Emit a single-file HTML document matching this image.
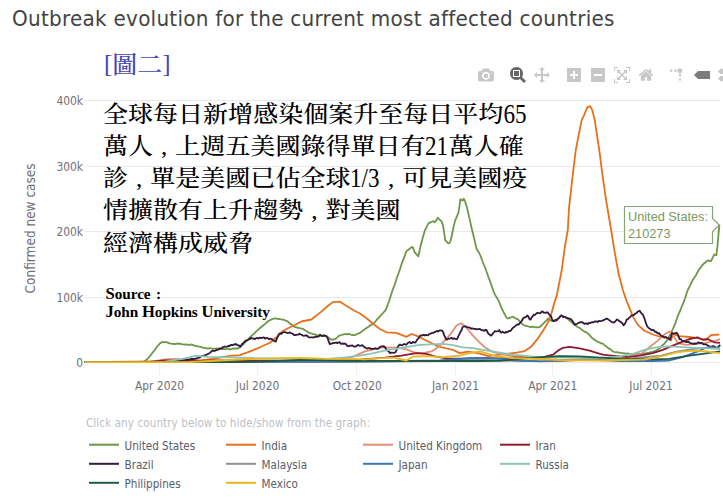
<!DOCTYPE html>
<html><head><meta charset="utf-8">
<style>
html,body{margin:0;padding:0;background:#fff;}
body{width:723px;height:500px;position:relative;overflow:hidden;font-family:"Liberation Sans",sans-serif;}
#title{position:absolute;left:12px;top:5px;transform:scaleY(1.07);transform-origin:0 4.3px;font-family:"DejaVu Sans","Liberation Sans",sans-serif;font-size:20px;line-height:26px;color:#444;white-space:nowrap;letter-spacing:0.25px;}
#fig{position:absolute;left:104px;top:48.7px;font-family:"Liberation Serif","Noto Serif CJK SC",serif;font-weight:500;font-size:25px;line-height:32px;color:#4545b4;white-space:nowrap;}
#cn{position:absolute;left:103px;top:99.2px;word-spacing:1.6px;transform:scaleX(1.088);transform-origin:0 0;font-family:"Liberation Serif","Noto Serif CJK SC",serif;font-weight:500;font-size:23px;line-height:32.1px;color:#000;white-space:nowrap;}
#src{position:absolute;left:105.5px;top:284.5px;letter-spacing:-0.07px;font-family:"Liberation Serif",serif;font-weight:bold;font-size:15.3px;line-height:18.5px;color:#000;white-space:nowrap;}
#src b{font-size:16.6px;line-height:1px;}
#cn .d{position:relative;top:1px;display:inline-block;line-height:1;font-size:26.5px;transform:scaleX(0.8);transform-origin:0 50%;margin-right:-5.3px;}
#cn .e{margin-right:-6.8px;}
#fig .br{position:relative;top:-1px;}
#fig .zh{display:inline-block;transform:scaleY(0.955);transform-origin:0 85%;}
svg.main{position:absolute;left:0;top:0;}
.ax{font-family:"DejaVu Sans Condensed","Liberation Sans",sans-serif;font-size:11.9px;fill:#707078;}
.lg{font-family:"DejaVu Sans Condensed","Liberation Sans",sans-serif;font-size:11.6px;fill:#585d69;}
</style></head><body>
<svg class="main" width="723" height="500" viewBox="0 0 723 500" font-family="Liberation Sans, sans-serif">
<g id="grid" stroke="#e9e9e9" stroke-width="1">
<line x1="84.6" x2="720" y1="100.5" y2="100.5"/>
<line x1="84.6" x2="720" y1="166.5" y2="166.5"/>
<line x1="84.6" x2="720" y1="231.5" y2="231.5"/>
<line x1="84.6" x2="720" y1="297.5" y2="297.5"/>
<line x1="84.6" x2="720" y1="362.5" y2="362.5"/>
<line x1="159.5" x2="159.5" y1="363" y2="375" stroke="#efefef"/>
<line x1="257.5" x2="257.5" y1="363" y2="375" stroke="#efefef"/>
<line x1="356.5" x2="356.5" y1="363" y2="375" stroke="#efefef"/>
<line x1="455.5" x2="455.5" y1="363" y2="375" stroke="#efefef"/>
<line x1="552.5" x2="552.5" y1="363" y2="375" stroke="#efefef"/>
<line x1="651.5" x2="651.5" y1="363" y2="375" stroke="#efefef"/>
</g>
<g class="ax" text-anchor="end">
<text x="83" y="105">400k</text>
<text x="83" y="171">300k</text>
<text x="83" y="236">200k</text>
<text x="83" y="302">100k</text>
<text x="83" y="367">0</text>
</g>
<g class="ax" text-anchor="middle">
<text x="159.5" y="390">Apr 2020</text>
<text x="257.5" y="390">Jul 2020</text>
<text x="357.2" y="390">Oct 2020</text>
<text x="455.5" y="390">Jan 2021</text>
<text x="552.7" y="390">Apr 2021</text>
<text x="651" y="390">Jul 2021</text>
</g>
<text class="ax" style="font-size:13.5px" transform="translate(34.8,228.4) rotate(-90)" text-anchor="middle">Confirmed new cases</text>
<g id="curves" fill="none" stroke-width="1.8" stroke-linejoin="round" stroke-linecap="butt">
<path d="M84.6,362.2 L85.7,362.2 L86.8,362.2 L87.8,362.2 L88.9,362.2 L90.0,362.2 L91.1,362.2 L92.2,362.2 L93.2,362.2 L94.3,362.2 L95.4,362.2 L96.5,362.2 L97.6,362.2 L98.6,362.2 L99.7,362.2 L100.8,362.2 L101.9,362.2 L103.0,362.2 L104.0,362.2 L105.1,362.2 L106.2,362.2 L107.3,362.2 L108.4,362.2 L109.4,362.2 L110.5,362.2 L111.6,362.2 L112.7,362.2 L113.8,362.2 L114.8,362.2 L115.9,362.2 L117.0,362.2 L118.1,362.2 L119.2,362.2 L120.2,362.2 L121.3,362.2 L122.4,362.2 L123.5,362.2 L124.6,362.2 L125.6,362.2 L126.7,362.2 L127.8,362.2 L128.9,362.2 L130.0,362.2 L131.0,362.2 L132.1,362.2 L133.2,362.2 L134.3,362.2 L135.4,362.2 L136.4,362.2 L137.5,362.2 L138.6,362.2 L139.7,362.2 L140.8,362.2 L141.8,362.2 L142.9,362.2 L144.0,361.6 L145.1,360.7 L146.2,359.9 L147.2,359.0 L148.3,358.1 L149.4,356.7 L150.5,355.3 L151.6,354.0 L152.6,352.6 L153.7,351.3 L154.8,350.0 L155.9,348.3 L157.0,346.7 L158.0,345.8 L159.1,344.3 L160.2,343.0 L161.3,342.8 L162.4,341.9 L163.4,342.1 L164.5,342.1 L165.6,342.2 L166.7,342.1 L167.8,342.6 L168.8,343.1 L169.9,343.3 L171.0,343.7 L172.1,343.9 L173.2,343.8 L174.2,344.0 L175.3,344.0 L176.4,343.8 L177.5,343.4 L178.6,343.8 L179.6,343.7 L180.7,343.9 L181.8,344.2 L182.9,344.3 L184.0,344.6 L185.0,344.4 L186.1,344.6 L187.2,344.5 L188.3,344.9 L189.4,345.1 L190.4,344.6 L191.5,344.5 L192.6,344.8 L193.7,345.5 L194.8,345.7 L195.8,346.0 L196.9,346.1 L198.0,346.4 L199.1,346.6 L200.2,346.8 L201.2,347.2 L202.3,347.4 L203.4,347.8 L204.5,347.9 L205.6,348.1 L206.6,348.3 L207.7,348.5 L208.8,348.4 L209.9,348.1 L211.0,348.4 L212.0,348.7 L213.1,348.8 L214.2,348.6 L215.3,348.7 L216.4,348.4 L217.4,348.7 L218.5,348.7 L219.6,348.5 L220.7,348.3 L221.8,348.8 L222.8,349.2 L223.9,348.8 L225.0,349.1 L226.1,349.1 L227.2,348.9 L228.2,348.9 L229.3,349.3 L230.4,349.5 L231.5,348.9 L232.6,348.9 L233.6,348.4 L234.7,348.6 L235.8,348.3 L236.9,348.5 L238.0,348.5 L239.0,347.7 L240.1,347.3 L241.2,346.3 L242.3,345.1 L243.4,344.4 L244.4,343.2 L245.5,342.1 L246.6,341.1 L247.7,340.1 L248.8,338.7 L249.8,337.3 L250.9,336.6 L252.0,335.3 L253.1,334.5 L254.2,333.6 L255.2,332.4 L256.3,331.3 L257.4,330.3 L258.5,329.4 L259.6,328.5 L260.6,327.5 L261.7,326.5 L262.8,325.9 L263.9,324.9 L265.0,323.9 L266.0,323.1 L267.1,322.0 L268.2,321.1 L269.3,320.6 L270.4,319.9 L271.4,319.6 L272.5,318.9 L273.6,318.7 L274.7,318.5 L275.8,318.3 L276.8,318.7 L277.9,319.0 L279.0,318.8 L280.1,319.2 L281.2,319.3 L282.2,319.6 L283.3,319.6 L284.4,320.0 L285.5,320.6 L286.6,320.8 L287.6,321.4 L288.7,322.4 L289.8,323.5 L290.9,324.1 L292.0,324.9 L293.0,325.9 L294.1,326.6 L295.2,327.2 L296.3,327.4 L297.4,327.6 L298.4,328.0 L299.5,328.1 L300.6,328.3 L301.7,328.8 L302.8,328.7 L303.8,329.4 L304.9,330.3 L306.0,330.8 L307.1,331.3 L308.2,332.3 L309.2,332.8 L310.3,333.1 L311.4,333.5 L312.5,334.0 L313.6,334.1 L314.6,334.4 L315.7,334.7 L316.8,335.3 L317.9,335.3 L319.0,335.6 L320.0,335.4 L321.1,335.4 L322.2,335.7 L323.3,336.1 L324.4,336.0 L325.4,335.9 L326.5,335.9 L327.6,336.9 L328.7,337.6 L329.8,338.8 L330.8,339.6 L331.9,339.4 L333.0,339.5 L334.1,339.7 L335.2,339.0 L336.2,338.3 L337.3,337.3 L338.4,336.2 L339.5,335.4 L340.6,335.4 L341.6,335.0 L342.7,334.7 L343.8,334.4 L344.9,334.2 L346.0,333.9 L347.0,334.3 L348.1,334.1 L349.2,333.9 L350.3,334.5 L351.4,334.8 L352.4,335.1 L353.5,334.9 L354.6,335.2 L355.7,334.8 L356.8,334.0 L357.8,333.7 L358.9,333.4 L360.0,332.9 L361.1,332.0 L362.2,331.1 L363.2,330.3 L364.3,329.5 L365.4,328.6 L366.5,328.1 L367.6,327.3 L368.6,326.8 L369.7,325.6 L370.8,325.2 L371.9,324.5 L373.0,323.9 L374.0,322.9 L375.1,321.9 L376.2,320.6 L377.3,319.0 L378.4,318.2 L379.4,316.9 L380.5,315.6 L381.6,314.6 L382.7,313.4 L383.8,312.1 L384.8,311.2 L385.9,309.6 L387.0,306.6 L388.1,303.7 L389.2,301.0 L390.2,297.4 L391.3,294.1 L392.4,290.8 L393.5,287.6 L394.6,284.8 L395.6,281.9 L396.7,278.3 L397.8,275.3 L398.9,272.3 L400.0,269.1 L401.0,265.9 L402.1,262.5 L403.2,259.8 L404.3,257.2 L405.4,253.9 L406.4,251.4 L407.5,250.4 L408.6,249.6 L409.7,248.7 L410.8,247.8 L411.8,247.0 L412.9,247.4 L414.0,250.6 L415.1,253.0 L416.2,254.1 L417.2,255.2 L418.3,256.3 L419.4,251.7 L420.5,246.3 L421.6,242.2 L422.6,238.3 L423.7,234.5 L424.8,230.7 L425.9,228.4 L427.0,226.3 L428.0,224.0 L429.1,223.0 L430.2,222.4 L431.3,221.8 L432.4,221.5 L433.4,221.2 L434.5,222.3 L435.6,221.5 L436.7,219.4 L437.8,217.7 L438.8,218.8 L439.9,220.0 L441.0,220.7 L442.1,222.4 L443.2,226.4 L444.2,233.1 L445.3,240.2 L446.4,241.4 L447.5,242.8 L448.6,243.3 L449.6,243.0 L450.7,240.5 L451.8,235.2 L452.9,230.2 L454.0,225.2 L455.0,220.9 L456.1,218.3 L457.2,215.6 L458.3,213.2 L459.4,206.6 L460.4,199.1 L461.5,200.2 L462.6,200.5 L463.7,198.8 L464.8,200.7 L465.8,203.7 L466.9,207.3 L468.0,211.9 L469.1,216.8 L470.2,221.6 L471.2,226.2 L472.3,231.0 L473.4,235.5 L474.5,239.8 L475.6,244.6 L476.6,249.0 L477.7,250.9 L478.8,252.1 L479.9,254.5 L481.0,257.1 L482.0,259.8 L483.1,263.0 L484.2,265.5 L485.3,268.0 L486.4,271.3 L487.4,274.0 L488.5,277.2 L489.6,280.1 L490.7,283.2 L491.8,286.2 L492.8,289.1 L493.9,292.1 L495.0,294.6 L496.1,296.6 L497.2,298.3 L498.2,300.1 L499.3,302.2 L500.4,305.1 L501.5,307.9 L502.6,310.0 L503.6,312.2 L504.7,314.2 L505.8,316.4 L506.9,318.0 L508.0,318.5 L509.0,317.9 L510.1,317.6 L511.2,317.3 L512.3,316.7 L513.4,317.1 L514.4,317.6 L515.5,318.2 L516.6,318.9 L517.7,319.2 L518.8,320.3 L519.8,321.8 L520.9,322.7 L522.0,323.9 L523.1,324.6 L524.2,325.2 L525.2,325.7 L526.3,326.0 L527.4,326.2 L528.5,326.5 L529.6,326.9 L530.6,327.2 L531.7,326.8 L532.8,326.6 L533.9,327.0 L535.0,327.4 L536.0,327.3 L537.1,327.2 L538.2,327.4 L539.3,327.1 L540.4,326.5 L541.4,325.3 L542.5,324.5 L543.6,323.3 L544.7,322.0 L545.8,321.1 L546.8,320.1 L547.9,318.6 L549.0,319.3 L550.1,319.9 L551.2,320.8 L552.2,320.9 L553.3,320.6 L554.4,320.5 L555.5,320.2 L556.6,320.2 L557.6,319.2 L558.7,317.9 L559.8,316.9 L560.9,315.9 L562.0,316.0 L563.0,316.1 L564.1,316.9 L565.2,317.1 L566.3,317.5 L567.4,318.4 L568.4,319.5 L569.5,320.6 L570.6,321.4 L571.7,322.2 L572.8,323.3 L573.8,324.3 L574.9,324.8 L576.0,325.7 L577.1,326.7 L578.2,327.3 L579.2,327.8 L580.3,328.4 L581.4,329.4 L582.5,330.1 L583.6,331.1 L584.6,331.8 L585.7,332.0 L586.8,332.6 L587.9,333.6 L589.0,334.4 L590.0,335.7 L591.1,337.0 L592.2,338.1 L593.3,338.7 L594.4,339.9 L595.4,340.4 L596.5,341.0 L597.6,341.8 L598.7,342.1 L599.8,342.6 L600.8,343.4 L601.9,343.5 L603.0,343.7 L604.1,344.8 L605.2,345.8 L606.2,346.3 L607.3,347.3 L608.4,348.2 L609.5,348.9 L610.6,349.4 L611.6,350.3 L612.7,351.3 L613.8,351.8 L614.9,352.3 L616.0,352.2 L617.0,352.2 L618.1,352.6 L619.2,352.5 L620.3,352.9 L621.4,353.2 L622.4,353.0 L623.5,353.3 L624.6,353.3 L625.7,353.5 L626.8,353.6 L627.8,353.5 L628.9,353.7 L630.0,353.8 L631.1,354.0 L632.2,353.8 L633.2,354.0 L634.3,354.1 L635.4,354.1 L636.5,353.9 L637.6,353.7 L638.6,353.7 L639.7,353.6 L640.8,353.8 L641.9,353.8 L643.0,353.7 L644.0,353.5 L645.1,353.5 L646.2,353.3 L647.3,352.9 L648.4,352.9 L649.4,352.7 L650.5,352.1 L651.6,352.2 L652.7,351.7 L653.8,351.4 L654.8,351.2 L655.9,350.6 L657.0,349.9 L658.1,349.3 L659.2,348.5 L660.2,347.7 L661.3,346.8 L662.4,345.3 L663.5,344.5 L664.6,343.4 L665.6,342.1 L666.7,340.7 L667.8,338.7 L668.9,336.7 L670.0,334.9 L671.0,333.5 L672.1,330.7 L673.2,328.3 L674.3,325.7 L675.4,323.1 L676.4,320.0 L677.5,316.9 L678.6,314.2 L679.7,311.6 L680.8,309.1 L681.8,306.3 L682.9,304.1 L684.0,301.1 L685.1,298.2 L686.2,294.8 L687.2,291.5 L688.3,289.0 L689.4,287.0 L690.5,284.6 L691.6,282.3 L692.6,280.2 L693.7,278.5 L694.8,276.9 L695.9,275.2 L697.0,273.3 L698.0,271.1 L699.1,269.6 L700.2,267.9 L701.3,266.6 L702.4,265.1 L703.4,264.0 L704.5,263.0 L705.6,262.4 L706.7,261.2 L707.8,260.6 L708.8,260.5 L709.9,261.2 L711.0,261.1 L712.1,258.8 L713.2,256.6 L714.2,254.4 L715.3,254.9 L716.4,255.2 L717.5,245.8 L718.6,232.8 L719.4,224.9" stroke="#6f9748"/>
<path d="M84.6,362.2 L196.4,361.0 L213.0,358.9 L229.6,355.9 L240.0,355.2 L250.0,351.4 L259.9,347.3 L269.9,342.8 L276.5,337.3 L283.2,330.7 L293.1,325.7 L301.4,321.5 L311.4,319.5 L321.3,311.6 L328.0,305.8 L332.9,302.1 L339.6,301.6 L346.2,305.8 L354.5,310.7 L360.0,313.5 L366.6,318.2 L373.3,324.0 L379.9,329.0 L386.6,332.3 L396.5,332.8 L401.5,334.8 L406.5,336.8 L411.5,334.0 L416.4,335.6 L423.1,339.0 L429.7,342.3 L438.0,346.4 L446.3,348.4 L452.9,349.8 L459.6,353.1 L467.9,351.7 L474.5,352.7 L480.0,353.7 L488.3,356.1 L496.6,355.1 L506.6,353.9 L516.5,352.7 L524.8,351.1 L531.5,346.4 L538.1,338.1 L543.1,330.7 L548.0,322.4 L551.5,313.2 L554.7,301.6 L556.6,296.4 L561.5,271.5 L564.9,246.6 L567.8,230.0 L569.0,208.2 L572.4,178.0 L575.6,151.4 L579.0,133.2 L581.8,119.9 L583.9,115.7 L587.3,107.4 L590.1,106.1 L592.2,109.9 L594.7,119.9 L597.2,136.5 L599.7,153.1 L602.2,173.0 L606.3,201.5 L611.3,231.0 L614.6,251.6 L618.8,274.8 L622.9,290.0 L626.2,300.0 L629.6,308.3 L632.9,316.6 L637.9,324.9 L644.5,330.7 L652.8,334.5 L661.1,337.0 L669.4,338.1 L671.1,340.6 L672.7,334.0 L679.3,336.1 L689.3,337.0 L697.6,338.1 L705.9,339.8 L710.9,335.1 L719.2,334.5" stroke="#e8701a"/>
<path d="M84.6,362.2 L150.0,362.0 L165.0,359.5 L175.0,358.8 L190.0,360.0 L215.0,361.2 L300.0,361.3 L340.0,360.5 L350.0,358.0 L360.0,353.6 L365.0,351.4 L373.3,349.4 L381.6,347.3 L396.5,347.6 L406.5,349.4 L414.8,352.7 L423.1,353.1 L431.4,351.4 L438.0,347.3 L444.6,340.6 L451.3,333.2 L456.3,325.7 L461.2,323.2 L466.2,327.3 L472.9,335.6 L480.0,342.8 L485.0,347.3 L491.6,351.4 L499.9,353.9 L513.2,356.1 L529.8,358.0 L560.0,359.8 L603.0,359.5 L627.9,356.4 L641.2,353.9 L649.5,347.3 L657.8,340.6 L664.4,334.5 L669.4,331.5 L673.5,335.6 L677.7,343.1 L686.0,344.8 L695.9,343.9 L705.9,342.8 L715.9,340.6 L720.0,339.0" stroke="#e38e74"/>
<path d="M84.6,362.2 L150.0,362.0 L165.0,360.3 L180.0,361.0 L200.0,360.8 L215.0,360.5 L260.0,360.6 L340.0,360.5 L360.0,359.7 L384.9,357.7 L401.5,355.6 L416.4,353.1 L426.4,353.9 L434.7,356.4 L446.3,358.4 L480.0,358.9 L513.2,357.7 L543.1,357.2 L553.0,354.7 L558.0,350.6 L563.0,347.8 L569.6,346.9 L579.6,348.4 L589.5,350.6 L600.0,353.9 L603.0,354.7 L611.3,355.6 L627.9,357.2 L639.5,355.6 L652.8,353.1 L662.8,349.8 L672.7,345.6 L681.0,342.3 L689.3,339.0 L697.6,337.3 L702.6,339.8 L707.6,339.0 L714.2,342.3 L720.0,342.8" stroke="#8e1b2e"/>
<path d="M84.6,362.2 L85.7,362.2 L86.8,362.2 L87.8,362.2 L88.9,362.2 L90.0,362.2 L91.1,362.2 L92.2,362.2 L93.2,362.2 L94.3,362.2 L95.4,362.2 L96.5,362.2 L97.6,362.2 L98.6,362.2 L99.7,362.2 L100.8,362.2 L101.9,362.2 L103.0,362.2 L104.0,362.2 L105.1,362.2 L106.2,362.1 L107.3,362.1 L108.4,362.1 L109.4,362.1 L110.5,362.1 L111.6,362.1 L112.7,362.1 L113.8,362.1 L114.8,362.1 L115.9,362.1 L117.0,362.1 L118.1,362.1 L119.2,362.1 L120.2,362.1 L121.3,362.1 L122.4,362.1 L123.5,362.1 L124.6,362.1 L125.6,362.1 L126.7,362.1 L127.8,362.1 L128.9,362.1 L130.0,362.1 L131.0,362.1 L132.1,362.1 L133.2,362.1 L134.3,362.1 L135.4,362.1 L136.4,362.1 L137.5,362.1 L138.6,362.1 L139.7,362.1 L140.8,362.1 L141.8,362.1 L142.9,362.1 L144.0,362.1 L145.1,362.1 L146.2,362.1 L147.2,362.1 L148.3,362.1 L149.4,362.0 L150.5,362.0 L151.6,362.0 L152.6,362.0 L153.7,362.0 L154.8,362.0 L155.9,362.0 L157.0,362.0 L158.0,362.0 L159.1,362.0 L160.2,362.0 L161.3,362.0 L162.4,362.0 L163.4,362.0 L164.5,362.0 L165.6,362.0 L166.7,362.0 L167.8,362.0 L168.8,362.0 L169.9,362.0 L171.0,361.9 L172.1,361.8 L173.2,361.7 L174.2,361.6 L175.3,361.4 L176.4,361.3 L177.5,361.2 L178.6,361.1 L179.6,361.0 L180.7,360.8 L181.8,360.6 L182.9,360.5 L184.0,360.2 L185.0,360.1 L186.1,359.8 L187.2,359.6 L188.3,359.5 L189.4,359.6 L190.4,359.2 L191.5,359.0 L192.6,359.0 L193.7,359.0 L194.8,358.8 L195.8,358.5 L196.9,358.5 L198.0,357.7 L199.1,357.7 L200.2,357.1 L201.2,356.4 L202.3,355.9 L203.4,355.6 L204.5,355.8 L205.6,354.9 L206.6,354.6 L207.7,354.2 L208.8,353.5 L209.9,353.0 L211.0,351.8 L212.0,351.0 L213.1,350.7 L214.2,351.0 L215.3,350.6 L216.4,350.0 L217.4,349.9 L218.5,349.4 L219.6,348.6 L220.7,348.8 L221.8,348.4 L222.8,347.2 L223.9,346.9 L225.0,346.5 L226.1,346.9 L227.2,346.7 L228.2,345.8 L229.3,346.4 L230.4,345.1 L231.5,344.8 L232.6,345.2 L233.6,344.4 L234.7,344.6 L235.8,344.0 L236.9,344.8 L238.0,345.4 L239.0,345.4 L240.1,346.7 L241.2,345.3 L242.3,343.9 L243.4,342.8 L244.4,341.8 L245.5,340.7 L246.6,340.4 L247.7,340.1 L248.8,339.3 L249.8,339.2 L250.9,337.9 L252.0,338.4 L253.1,338.4 L254.2,339.0 L255.2,338.9 L256.3,338.1 L257.4,338.0 L258.5,338.5 L259.6,337.6 L260.6,338.0 L261.7,337.8 L262.8,337.6 L263.9,337.4 L265.0,338.6 L266.0,338.1 L267.1,338.0 L268.2,338.3 L269.3,339.3 L270.4,338.6 L271.4,339.0 L272.5,339.6 L273.6,340.7 L274.7,341.2 L275.8,341.6 L276.8,338.6 L277.9,336.3 L279.0,334.0 L280.1,333.4 L281.2,334.0 L282.2,332.8 L283.3,332.3 L284.4,332.2 L285.5,332.2 L286.6,332.7 L287.6,333.1 L288.7,332.9 L289.8,332.4 L290.9,333.0 L292.0,333.4 L293.0,334.0 L294.1,335.1 L295.2,335.2 L296.3,334.8 L297.4,334.7 L298.4,334.7 L299.5,333.6 L300.6,334.5 L301.7,334.8 L302.8,335.5 L303.8,335.8 L304.9,335.5 L306.0,335.5 L307.1,335.5 L308.2,337.1 L309.2,337.3 L310.3,337.4 L311.4,337.4 L312.5,337.3 L313.6,337.5 L314.6,337.1 L315.7,336.7 L316.8,336.8 L317.9,336.7 L319.0,336.2 L320.0,334.7 L321.1,335.7 L322.2,336.1 L323.3,335.5 L324.4,335.5 L325.4,335.7 L326.5,336.4 L327.6,338.1 L328.7,341.4 L329.8,344.1 L330.8,343.7 L331.9,343.7 L333.0,343.0 L334.1,342.8 L335.2,342.9 L336.2,342.5 L337.3,343.2 L338.4,342.4 L339.5,342.1 L340.6,343.7 L341.6,343.9 L342.7,343.4 L343.8,344.0 L344.9,343.5 L346.0,344.3 L347.0,345.6 L348.1,346.1 L349.2,346.2 L350.3,345.6 L351.4,345.6 L352.4,345.3 L353.5,346.3 L354.6,346.5 L355.7,346.6 L356.8,345.7 L357.8,344.9 L358.9,345.4 L360.0,345.8 L361.1,345.6 L362.2,345.1 L363.2,346.0 L364.3,347.2 L365.4,347.6 L366.5,348.4 L367.6,348.5 L368.6,348.1 L369.7,348.1 L370.8,348.8 L371.9,348.9 L373.0,348.9 L374.0,348.9 L375.1,348.2 L376.2,348.6 L377.3,348.8 L378.4,348.7 L379.4,347.5 L380.5,346.7 L381.6,346.4 L382.7,346.3 L383.8,346.2 L384.8,347.0 L385.9,348.9 L387.0,350.3 L388.1,350.9 L389.2,352.0 L390.2,353.3 L391.3,352.6 L392.4,352.6 L393.5,352.8 L394.6,352.6 L395.6,352.2 L396.7,349.7 L397.8,346.8 L398.9,345.4 L400.0,344.5 L401.0,345.0 L402.1,345.4 L403.2,344.5 L404.3,344.0 L405.4,344.6 L406.4,344.5 L407.5,343.3 L408.6,342.5 L409.7,342.0 L410.8,343.0 L411.8,343.2 L412.9,341.9 L414.0,342.4 L415.1,342.6 L416.2,341.3 L417.2,339.6 L418.3,338.6 L419.4,336.9 L420.5,335.3 L421.6,335.7 L422.6,335.2 L423.7,334.9 L424.8,335.5 L425.9,334.8 L427.0,335.2 L428.0,335.3 L429.1,334.2 L430.2,333.6 L431.3,333.4 L432.4,332.8 L433.4,332.9 L434.5,332.1 L435.6,331.8 L436.7,330.9 L437.8,331.6 L438.8,330.8 L439.9,330.4 L441.0,330.3 L442.1,330.6 L443.2,332.3 L444.2,335.4 L445.3,337.5 L446.4,339.6 L447.5,339.4 L448.6,338.5 L449.6,338.7 L450.7,338.4 L451.8,337.8 L452.9,339.0 L454.0,338.4 L455.0,338.7 L456.1,339.2 L457.2,339.0 L458.3,336.3 L459.4,334.2 L460.4,332.0 L461.5,330.2 L462.6,327.0 L463.7,326.7 L464.8,326.4 L465.8,326.4 L466.9,327.3 L468.0,327.3 L469.1,327.4 L470.2,328.0 L471.2,328.8 L472.3,328.4 L473.4,328.7 L474.5,328.8 L475.6,329.0 L476.6,329.4 L477.7,329.1 L478.8,329.1 L479.9,329.0 L481.0,329.9 L482.0,330.0 L483.1,330.4 L484.2,330.8 L485.3,329.9 L486.4,330.0 L487.4,332.0 L488.5,333.9 L489.6,334.5 L490.7,335.6 L491.8,335.0 L492.8,333.4 L493.9,332.3 L495.0,331.0 L496.1,331.3 L497.2,331.3 L498.2,331.2 L499.3,330.0 L500.4,332.1 L501.5,332.7 L502.6,331.7 L503.6,332.5 L504.7,333.0 L505.8,331.8 L506.9,332.5 L508.0,331.8 L509.0,331.0 L510.1,331.0 L511.2,330.3 L512.3,328.4 L513.4,327.5 L514.4,326.8 L515.5,325.9 L516.6,324.9 L517.7,324.4 L518.8,324.6 L519.8,323.1 L520.9,322.0 L522.0,320.5 L523.1,318.2 L524.2,317.5 L525.2,317.4 L526.3,316.8 L527.4,315.4 L528.5,316.9 L529.6,319.3 L530.6,319.5 L531.7,317.3 L532.8,316.1 L533.9,314.6 L535.0,314.8 L536.0,313.9 L537.1,313.0 L538.2,312.8 L539.3,313.3 L540.4,313.2 L541.4,311.9 L542.5,311.4 L543.6,312.6 L544.7,312.6 L545.8,312.9 L546.8,312.3 L547.9,312.5 L549.0,314.2 L550.1,315.3 L551.2,316.6 L552.2,319.7 L553.3,321.1 L554.4,321.2 L555.5,319.9 L556.6,320.5 L557.6,318.8 L558.7,318.5 L559.8,317.0 L560.9,315.4 L562.0,315.6 L563.0,317.0 L564.1,316.9 L565.2,316.9 L566.3,317.9 L567.4,318.1 L568.4,318.3 L569.5,318.7 L570.6,319.0 L571.7,320.0 L572.8,321.6 L573.8,323.1 L574.9,324.8 L576.0,324.1 L577.1,323.9 L578.2,323.0 L579.2,322.7 L580.3,322.1 L581.4,322.4 L582.5,322.2 L583.6,323.4 L584.6,323.8 L585.7,323.4 L586.8,323.5 L587.9,324.1 L589.0,322.7 L590.0,323.2 L591.1,322.5 L592.2,322.1 L593.3,322.4 L594.4,321.7 L595.4,321.4 L596.5,321.5 L597.6,322.0 L598.7,320.9 L599.8,321.2 L600.8,321.1 L601.9,320.9 L603.0,320.3 L604.1,319.9 L605.2,319.2 L606.2,318.9 L607.3,318.6 L608.4,319.7 L609.5,320.2 L610.6,321.3 L611.6,321.8 L612.7,322.4 L613.8,322.5 L614.9,321.8 L616.0,320.5 L617.0,319.4 L618.1,320.1 L619.2,321.1 L620.3,321.5 L621.4,322.6 L622.4,323.3 L623.5,325.3 L624.6,324.4 L625.7,322.1 L626.8,319.4 L627.8,319.3 L628.9,318.0 L630.0,317.1 L631.1,315.7 L632.2,315.4 L633.2,315.1 L634.3,314.6 L635.4,313.5 L636.5,313.2 L637.6,311.8 L638.6,311.2 L639.7,310.7 L640.8,312.6 L641.9,313.7 L643.0,314.9 L644.0,317.3 L645.1,320.3 L646.2,323.9 L647.3,326.5 L648.4,327.7 L649.4,328.4 L650.5,329.1 L651.6,330.1 L652.7,330.0 L653.8,330.2 L654.8,331.9 L655.9,331.5 L657.0,332.8 L658.1,333.6 L659.2,333.2 L660.2,334.7 L661.3,335.8 L662.4,336.1 L663.5,336.8 L664.6,337.5 L665.6,336.9 L666.7,337.5 L667.8,338.0 L668.9,339.0 L670.0,339.7 L671.0,336.7 L672.1,333.0 L673.2,333.5 L674.3,333.4 L675.4,333.4 L676.4,332.7 L677.5,333.7 L678.6,336.7 L679.7,339.1 L680.8,339.1 L681.8,340.5 L682.9,340.8 L684.0,341.3 L685.1,341.6 L686.2,342.1 L687.2,342.1 L688.3,341.4 L689.4,342.6 L690.5,343.3 L691.6,343.4 L692.6,343.6 L693.7,344.1 L694.8,343.3 L695.9,343.9 L697.0,343.3 L698.0,342.6 L699.1,342.5 L700.2,343.3 L701.3,342.7 L702.4,343.3 L703.4,344.4 L704.5,344.3 L705.6,344.3 L706.7,344.7 L707.8,345.5 L708.8,346.2 L709.9,346.5 L711.0,346.9 L712.1,346.2 L713.2,346.1 L714.2,346.4 L715.3,347.5 L716.4,347.5 L717.5,348.0 L718.6,346.5 L719.6,345.4 L720.0,346.4" stroke="#35193a"/>
<path d="M84.6,362.2 L340.0,362.0 L380.0,361.5 L440.0,361.0 L470.0,360.0 L490.0,360.0 L520.0,361.2 L560.0,361.0 L590.0,359.5 L603.0,358.0 L612.0,358.0 L625.0,359.0 L636.2,358.0 L661.0,355.6 L677.7,351.4 L694.3,348.9 L711.0,347.3 L720.0,348.1" stroke="#8f8f94"/>
<path d="M84.6,362.2 L160.0,362.0 L170.0,361.6 L190.0,362.0 L270.0,361.8 L290.0,361.3 L310.0,361.6 L380.0,361.4 L440.0,360.5 L460.0,359.0 L470.0,358.0 L480.0,358.0 L490.0,357.8 L510.0,360.0 L540.0,361.3 L560.0,360.5 L580.0,359.3 L590.0,358.8 L600.0,360.0 L620.0,361.0 L652.8,361.0 L669.4,360.5 L682.7,357.2 L696.0,352.2 L706.0,347.8 L712.5,347.3 L720.0,348.9" stroke="#3b76b5"/>
<path d="M84.6,362.2 L160.0,362.0 L165.0,361.7 L184.8,358.4 L196.4,355.6 L208.0,356.8 L229.6,357.3 L250.0,358.0 L290.0,358.8 L330.0,358.6 L345.0,357.5 L360.0,355.6 L370.0,353.9 L384.9,350.6 L401.5,347.8 L418.1,345.1 L429.7,344.4 L443.0,343.9 L452.9,345.1 L462.9,347.3 L472.9,348.1 L480.0,349.4 L496.6,352.2 L513.2,354.7 L538.0,357.2 L600.0,358.0 L603.0,358.0 L619.6,356.4 L632.9,353.9 L644.5,349.8 L656.1,347.3 L669.4,346.4 L686.0,347.3 L702.6,348.1 L720.0,348.9" stroke="#8cc5b8"/>
<path d="M84.6,362.2 L240.0,362.0 L280.0,360.8 L300.0,360.0 L320.0,360.2 L350.0,360.8 L480.0,361.0 L500.0,360.8 L529.8,358.0 L546.4,356.9 L559.7,356.1 L579.6,356.4 L600.0,357.7 L603.0,357.7 L619.6,358.9 L652.8,359.4 L669.4,358.9 L686.0,356.1 L702.6,353.9 L720.0,351.4" stroke="#1f5a45"/>
<path d="M84.6,362.2 L190.0,362.0 L220.0,360.5 L250.0,359.0 L280.0,358.2 L300.0,358.0 L330.0,358.8 L360.0,359.2 L365.0,359.4 L376.6,358.4 L393.2,357.7 L406.5,360.5 L413.1,356.4 L426.4,356.1 L443.0,357.2 L459.6,355.6 L469.5,353.1 L480.0,351.4 L488.3,353.9 L496.6,356.4 L513.2,358.0 L560.0,360.0 L600.0,360.5 L603.0,360.5 L644.5,359.7 L661.0,356.4 L677.7,352.2 L694.3,350.6 L706.0,351.4 L720.0,353.1" stroke="#eab71f"/>
</g>
<g id="tooltip">
<path d="M624.5,206.5 H712.5 V218.5 L719.3,225 L712.5,231.5 V243.5 H624.5 Z" fill="#fff" stroke="#8aa277" stroke-width="1.2"/>
<text x="628" y="220.8" font-size="13.6" fill="#7a9860" textLength="80" lengthAdjust="spacingAndGlyphs">United States:</text>
<text x="628" y="237.8" font-size="13.6" fill="#7a9860" textLength="42.5" lengthAdjust="spacingAndGlyphs">210273</text>
</g>
<text x="86" y="426.6" font-family="DejaVu Sans Condensed, Liberation Sans, sans-serif" font-size="11.6" fill="#bcbfc6" textLength="284" lengthAdjust="spacing">Click any country below to hide/show from the graph:</text>
<g id="legend">
<line x1="89" x2="119" y1="444.7" y2="444.7" stroke="#6f9748" stroke-width="2"/><text class="lg" x="124.5" y="450.2">United States</text>
<line x1="226" x2="256" y1="444.7" y2="444.7" stroke="#e8701a" stroke-width="2"/><text class="lg" x="261.5" y="450.2">India</text>
<line x1="363" x2="393" y1="444.7" y2="444.7" stroke="#e38e74" stroke-width="2"/><text class="lg" x="398.5" y="450.2">United Kingdom</text>
<line x1="500" x2="530" y1="444.7" y2="444.7" stroke="#8e1b2e" stroke-width="2"/><text class="lg" x="535.5" y="450.2">Iran</text>
<line x1="89" x2="119" y1="463.8" y2="463.8" stroke="#35193a" stroke-width="2"/><text class="lg" x="124.5" y="469.3">Brazil</text>
<line x1="226" x2="256" y1="463.8" y2="463.8" stroke="#8f8f94" stroke-width="2"/><text class="lg" x="261.5" y="469.3">Malaysia</text>
<line x1="363" x2="393" y1="463.8" y2="463.8" stroke="#3b76b5" stroke-width="2"/><text class="lg" x="398.5" y="469.3">Japan</text>
<line x1="500" x2="530" y1="463.8" y2="463.8" stroke="#8cc5b8" stroke-width="2"/><text class="lg" x="535.5" y="469.3">Russia</text>
<line x1="89" x2="119" y1="482.8" y2="482.8" stroke="#1f5a45" stroke-width="2"/><text class="lg" x="124.5" y="488.3">Philippines</text>
<line x1="226" x2="256" y1="482.8" y2="482.8" stroke="#eab71f" stroke-width="2"/><text class="lg" x="261.5" y="488.3">Mexico</text>
</g>
<g id="modebar" fill="#c7c7c7">
<svg x="478" y="67" width="16" height="16" viewBox="0 0 1000 1000"><path fill-rule="evenodd" transform="matrix(1 0 0 -1 0 850)" d="m500 450c-83 0-150-67-150-150 0-83 67-150 150-150 83 0 150 67 150 150 0 83-67 150-150 150z m400 150h-120c-16 0-34 13-39 29l-31 93c-6 15-23 28-40 28h-340c-16 0-34-13-39-28l-31-94c-6-15-23-28-40-28h-120c-55 0-100-45-100-100v-450c0-55 45-100 100-100h800c55 0 100 45 100 100v450c0 55-45 100-100 100z m-400-550c-138 0-250 112-250 250 0 138 112 250 250 250 138 0 250-112 250-250 0-138-112-250-250-250z m365 380c-19 0-35 16-35 35 0 19 16 35 35 35 19 0 35-16 35-35 0-19-16-35-35-35z"/></svg>
<svg x="510" y="67" width="16" height="16" viewBox="0 0 1000 1000"><path fill="#666" transform="matrix(1 0 0 -1 0 850)" d="m1000-25l-250 251c40 63 63 138 63 218 0 224-182 406-407 406-224 0-406-182-406-406s183-406 407-406c80 0 155 22 218 62l250-250 125 125z m-812 250l0 438 437 0 0-438-437 0z m62 375l313 0 0-312-313 0 0 312z"/></svg>
<svg x="534" y="67" width="16" height="16" viewBox="0 0 1000 1000"><path transform="matrix(1 0 0 -1 0 850)" d="m1000 350l-187 188 0-125-250 0 0 250 125 0-188 187-187-187 125 0 0-250-250 0 0 125-188-188 186-187 0 125 252 0 0-250-125 0 187-188 188 188-125 0 0 250 250 0 0-126 187 188z"/></svg>
<svg x="566" y="67" width="16" height="16" viewBox="0 0 875 1000"><path transform="matrix(1 0 0 -1 0 850)" d="m1 787l0-875 875 0 0 875-875 0z m687-500l-187 0 0-187-125 0 0 187-188 0 0 125 188 0 0 187 125 0 0-187 187 0 0-125z"/></svg>
<svg x="590" y="67" width="16" height="16" viewBox="0 0 875 1000"><path transform="matrix(1 0 0 -1 0 850)" d="m0 788l0-876 875 0 0 876-875 0z m688-500l-500 0 0 125 500 0 0-125z"/></svg>
<svg x="614" y="67" width="16" height="16" viewBox="0 0 1000 1000"><path transform="matrix(1 0 0 -1 0 850)" d="m250 850l-187 0-63 0 0-62 0-188 63 0 0 188 187 0 0 62z m688 0l-188 0 0-62 188 0 0-188 62 0 0 188 0 62-62 0z m-875-938l0 188-63 0 0-188 0-62 63 0 187 0 0 62-187 0z m875 188l0-188-188 0 0-62 188 0 62 0 0 62 0 188-62 0z m-125 188l-1 0-93-94-156 156 156 156 92-93 2 0 0 250-250 0 0-2 93-92-156-156-156 156 94 92 0 2-250 0 0-250 0 0 93 93 157-156-157-156-93 94 0 0 0-250 250 0 0 0-94 93 156 157 156-157-93-93 0 0 250 0 0 250z"/></svg>
<svg x="638" y="67" width="16" height="16" viewBox="0 0 928.6 1000"><path transform="matrix(1 0 0 -1 0 850)" d="m786 296v-267q0-15-11-26t-25-10h-214v214h-143v-214h-214q-15 0-25 10t-11 26v267q0 1 0 2t0 2l321 264 321-264q1-1 1-4z m124 39l-34-41q-5-5-12-6h-2q-7 0-12 3l-386 322-386-322q-7-4-13-4-7 2-12 7l-35 41q-4 5-3 13t6 12l401 334q18 15 42 15t43-15l136-114v109q0 8 5 13t13 5h107q8 0 13-5t5-13v-227l122-102q5-5 6-12t-4-13z"/></svg>
<svg x="670" y="67" width="16" height="16" viewBox="0 0 1000 1000"><path transform="matrix(1.5 0 0 -1.5 0 850)" d="M512 409c0-57-46-104-103-104-57 0-104 47-104 104 0 57 47 103 104 103 57 0 103-46 103-103z m-327-39l92 0 0 92-92 0z m-185 0l92 0 0 92-92 0z m370-186l92 0 0 93-92 0z m0-184l92 0 0 92-92 0z"/></svg>
<svg x="694" y="67" width="16" height="16" viewBox="0 0 1500 1000"><path fill="#7c7c7c" transform="matrix(1 0 0 -1 0 850)" d="m375 725l0 0-375-375 375-374 0-1 1125 0 0 750-1125 0z"/></svg>
<svg x="718" y="67" width="16" height="16" viewBox="0 0 1125 1000"><path transform="matrix(1 0 0 -1 0 850)" d="m187 786l0 2-187-188 188-187 0 0 937 0 0 373-938 0z m0-499l0 1-187-188 188-188 0 0 937 0 0 376-938-1z"/></svg>
</g>
</svg>
<div id="title">Outbreak evolution for the current most affected countries</div>
<div id="fig"><span class="br">[</span><span class="zh">圖二</span><span class="br">]</span></div>
<div id="cn">全球每日新增感染個案升至每日平均<span class="d">65</span><br>萬人 , 上週五美國錄得單日有<span class="d">21</span>萬人確<br>診 , 單是美國已佔全球<span class="d e">1/3</span> , 可見美國疫<br>情擴散有上升趨勢 , 對美國<br>經濟構成威脅</div>
<div id="src"><span style="word-spacing:1.6px"><b>S</b>ource :</span><br><b>J</b>ohn <b>H</b>opkins <b>U</b>niversity</div>
</body></html>
